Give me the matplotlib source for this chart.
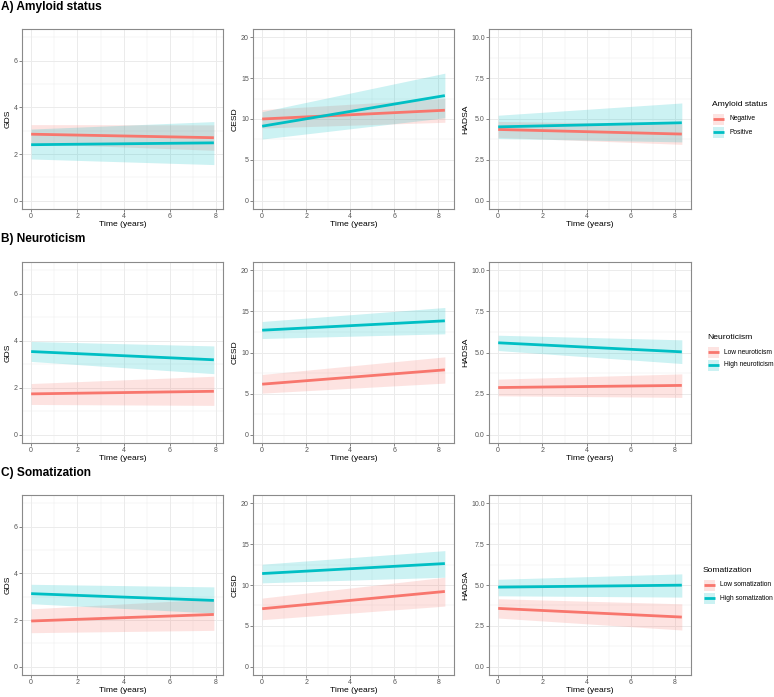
import matplotlib
matplotlib.use("Agg")
import matplotlib.pyplot as plt
from matplotlib.patches import Rectangle
from matplotlib.lines import Line2D
from matplotlib.ticker import MultipleLocator

plt.rcParams['font.family'] = ['Liberation Sans', 'DejaVu Sans']

# ---------------- data ----------------
time_gds = [0.0, 7.9]
time_other = [0.0, 8.3]

measures = ["GDS", "CESD", "HADSA"]
row_titles = ["A) Amyloid status", "B) Neuroticism", "C) Somatization"]
legend_titles = ["Amyloid status", "Neuroticism", "Somatization"]
group_labels = [["Negative", "Positive"],
                ["Low neuroticism", "High neuroticism"],
                ["Low somatization", "High somatization"]]

# each: [group0 [start, end], group1 [start, end]]
amy_gds_fit = [[2.85, 2.70], [2.40, 2.48]]
amy_gds_lo = [[2.45, 2.16], [1.79, 1.55]]
amy_gds_hi = [[3.26, 3.25], [3.07, 3.39]]
amy_cesd_fit = [[10.0, 11.07], [9.12, 12.86]]
amy_cesd_lo = [[8.9, 9.6], [7.55, 10.15]]
amy_cesd_hi = [[11.15, 12.5], [10.9, 15.6]]
amy_hadsa_fit = [[4.36, 4.08], [4.52, 4.77]]
amy_hadsa_lo = [[3.88, 3.45], [3.81, 3.60]]
amy_hadsa_hi = [[4.85, 4.70], [5.23, 5.98]]

neu_gds_fit = [[1.74, 1.85], [3.54, 3.19]]
neu_gds_lo = [[1.29, 1.25], [3.12, 2.60]]
neu_gds_hi = [[2.18, 2.49], [3.97, 3.78]]
neu_cesd_fit = [[6.15, 7.89], [12.71, 13.85]]
neu_cesd_lo = [[5.06, 6.28], [11.70, 12.27]]
neu_cesd_hi = [[7.33, 9.47], [13.77, 15.47]]
neu_hadsa_fit = [[2.87, 3.00], [5.59, 5.04]]
neu_hadsa_lo = [[2.37, 2.27], [5.12, 4.33]]
neu_hadsa_hi = [[3.38, 3.70], [6.05, 5.77]]

som_gds_fit = [[1.96, 2.24], [3.13, 2.84]]
som_gds_lo = [[1.46, 1.56], [2.70, 2.30]]
som_gds_hi = [[2.48, 2.90], [3.53, 3.42]]
som_cesd_fit = [[7.10, 9.21], [11.40, 12.62]]
som_cesd_lo = [[5.76, 7.42], [10.26, 10.95]]
som_cesd_hi = [[8.40, 10.95], [12.54, 14.20]]
som_hadsa_fit = [[3.57, 3.04], [4.87, 4.99]]
som_hadsa_lo = [[2.98, 2.25], [4.34, 4.26]]
som_hadsa_hi = [[4.16, 3.85], [5.35, 5.68]]

colors = ["#F8766D", "#00BFC4"]

rows = [
    [(amy_gds_fit, amy_gds_lo, amy_gds_hi), (amy_cesd_fit, amy_cesd_lo, amy_cesd_hi), (amy_hadsa_fit, amy_hadsa_lo, amy_hadsa_hi)],
    [(neu_gds_fit, neu_gds_lo, neu_gds_hi), (neu_cesd_fit, neu_cesd_lo, neu_cesd_hi), (neu_hadsa_fit, neu_hadsa_lo, neu_hadsa_hi)],
    [(som_gds_fit, som_gds_lo, som_gds_hi), (som_cesd_fit, som_cesd_lo, som_cesd_hi), (som_hadsa_fit, som_hadsa_lo, som_hadsa_hi)],
]

# ---------------- layout ----------------
W, H = 774, 697
fig = plt.figure(figsize=(W / 100, H / 100), dpi=100)

def fx(px):
    return px / W

def fy(py):
    return 1 - py / H

col_lr = [(22, 223), (253, 454), (489, 691)]
row_tb = [(29, 209), (262, 443), (495, 675)]
title_y = [7, 239, 473]

ylims = {"GDS": (-0.35, 7.35), "CESD": (-1.0, 21.0), "HADSA": (-0.5, 10.5)}
ymajor = {"GDS": 2, "CESD": 5, "HADSA": 2.5}
yfmt = {"GDS": "{:.0f}", "CESD": "{:.0f}", "HADSA": "{:.1f}"}

border = "#8a8a8a"
gridc = "#EBEBEB"
tickc = "#555555"

for r in range(3):
    top, bot = row_tb[r]
    fig.text(fx(1), fy(title_y[r]), row_titles[r], fontsize=8.6, fontweight="bold",
             ha="left", va="center")
    for c in range(3):
        left, right = col_lr[c]
        ax = fig.add_axes([fx(left), fy(bot), fx(right - left), (bot - top) / H])
        m = measures[c]
        t = time_gds if m == "GDS" else time_other
        fit, lo, hi = rows[r][c]
        for g in range(2):
            ax.fill_between(t, lo[g], hi[g], color=colors[g], alpha=0.2, lw=0, zorder=2)
            ax.plot(t, fit[g], color=colors[g], lw=2.0, solid_capstyle="butt", zorder=3)
        xr = t[1] - t[0]
        ax.set_xlim(t[0] - 0.05 * xr, t[1] + 0.05 * xr)
        ax.set_ylim(*ylims[m])
        ax.xaxis.set_major_locator(MultipleLocator(2))
        ax.xaxis.set_minor_locator(MultipleLocator(1))
        ax.yaxis.set_major_locator(MultipleLocator(ymajor[m]))
        ax.yaxis.set_minor_locator(MultipleLocator(ymajor[m] / 2))
        ax.grid(which="major", color=gridc, lw=0.7, zorder=0)
        ax.grid(which="minor", color=gridc, lw=0.35, zorder=0)
        ax.set_axisbelow(True)
        ax.tick_params(which="minor", length=0)
        ax.tick_params(which="major", length=2, width=0.5, color=tickc, labelsize=5,
                       labelcolor=tickc, pad=1.0)
        ax.set_yticklabels([yfmt[m].format(v) for v in ax.get_yticks()])
        ax.set_xticklabels(["{:.0f}".format(v) for v in ax.get_xticks()])
        for s in ax.spines.values():
            s.set_color(border)
            s.set_linewidth(0.8)
        ax.set_xlabel("Time (years)", fontsize=6.1, labelpad=0.5)
        ax.set_ylabel(m, fontsize=6.1, labelpad=1.5)

# ---------------- legends ----------------
leg_title_y = [105, 338, 571]
leg_x = [712, 707, 703]
for r in range(3):
    x0 = leg_x[r]
    fig.text(fx(x0), fy(leg_title_y[r]), legend_titles[r], fontsize=6.1, ha="left", va="center")
    for g in range(2):
        yc = leg_title_y[r] + 14 + g * 13
        fig.add_artist(Rectangle((fx(x0 + 1), fy(yc + 5.5)), 11 / W, 11 / H,
                                 transform=fig.transFigure, facecolor=colors[g],
                                 alpha=0.2, lw=0))
        fig.add_artist(Line2D([fx(x0 + 1), fx(x0 + 12)], [fy(yc), fy(yc)],
                              transform=fig.transFigure, color=colors[g], lw=2.0,
                              solid_capstyle="butt"))
        fig.text(fx(x0 + 17), fy(yc), group_labels[r][g], fontsize=4.8, ha="left", va="center")

fig.savefig("out.png", dpi=100)
